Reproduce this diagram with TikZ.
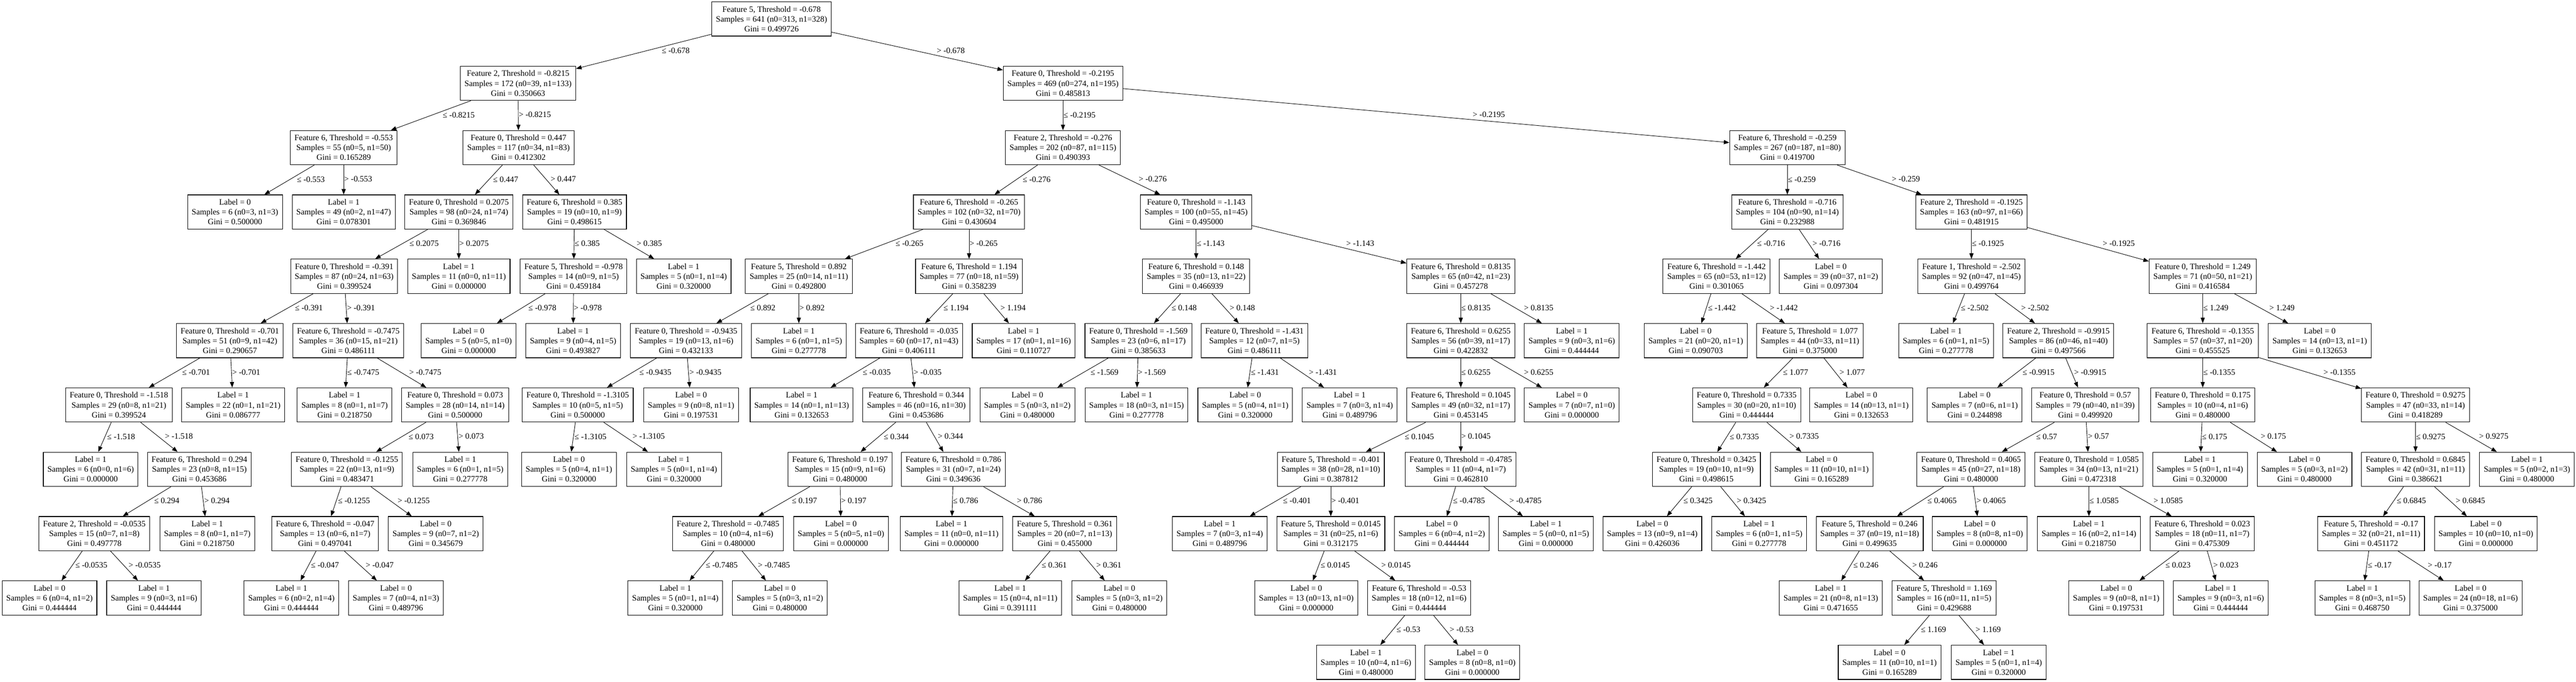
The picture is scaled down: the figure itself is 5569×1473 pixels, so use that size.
\documentclass[tikz,border=0pt]{standalone}
\usepackage{fontspec}
\setmainfont{Liberation Serif}
\usetikzlibrary{arrows.meta}
\tikzset{
  box/.style={draw, line width=1.2pt, align=center, minimum height=74pt, inner xsep=9pt, inner ysep=0pt,
    font=\fontsize{17.8pt}{21.3pt}\selectfont},
  arr/.style={-{Triangle[length=12pt,width=9pt]}, line width=1pt},
  elab/.style={font=\fontsize{17.8pt}{21.3pt}\selectfont, inner sep=1pt, text height=12.5pt, text depth=3.5pt}
}
\newcommand{\DecNode}[7]{\node[box] (#1) at (#2,{41+139*#3}) {Feature #4, Threshold = #5\\Samples = #6\\Gini = #7};}
\newcommand{\LeafNode}[6]{\node[box] (#1) at (#2,{41+139*#3}) {Label = #4\\Samples = #5\\Gini = #6};}
\newcommand{\EdgeLe}[3]{\draw[arr] (#1) -- (#2); \path (#1.center) -- (#2.center) node[elab, pos=0.435, anchor=north west] {≤ #3};}
\newcommand{\EdgeGt}[3]{\draw[arr] (#1) -- (#2); \path (#1.center) -- (#2.center) node[elab, pos=0.565, anchor=south west] {> #3};}
\begin{document}
\begin{tikzpicture}[x=1pt, y=-1pt]
\useasboundingbox (0,0) rectangle (5569,1473);
% level 0-1
\DecNode{t}{1668}{0}{5}{-0.678}{641 (n0=313, n1=328)}{0.499726}
\DecNode{tL}{1120}{1}{2}{-0.8215}{172 (n0=39, n1=133)}{0.350663}
\DecNode{tR}{2298}{1}{0}{-0.2195}{469 (n0=274, n1=195)}{0.485813}
% level 2
\DecNode{tLL}{743}{2}{6}{-0.553}{55 (n0=5, n1=50)}{0.165289}
\DecNode{tLR}{1121}{2}{0}{0.447}{117 (n0=34, n1=83)}{0.412302}
\DecNode{tRL}{2298}{2}{2}{-0.276}{202 (n0=87, n1=115)}{0.490393}
\DecNode{tRR}{3864}{2}{6}{-0.259}{267 (n0=187, n1=80)}{0.419700}
% level 3
\LeafNode{tLLL}{508}{3}{0}{6 (n0=3, n1=3)}{0.500000}
\LeafNode{tLLR}{743}{3}{1}{49 (n0=2, n1=47)}{0.078301}
\DecNode{tLRL}{992}{3}{0}{0.2075}{98 (n0=24, n1=74)}{0.369846}
\DecNode{tLRR}{1242}{3}{6}{0.385}{19 (n0=10, n1=9)}{0.498615}
\DecNode{tRLL}{2095}{3}{6}{-0.265}{102 (n0=32, n1=70)}{0.430604}
\DecNode{tRLR}{2586}{3}{0}{-1.143}{100 (n0=55, n1=45)}{0.495000}
\DecNode{tRRL}{3864}{3}{6}{-0.716}{104 (n0=90, n1=14)}{0.232988}
\DecNode{tRRR}{4262}{3}{2}{-0.1925}{163 (n0=97, n1=66)}{0.481915}
% level 4
\DecNode{tLRLL}{744}{4}{0}{-0.391}{87 (n0=24, n1=63)}{0.399524}
\LeafNode{tLRLR}{992}{4}{1}{11 (n0=0, n1=11)}{0.000000}
\DecNode{tLRRL}{1240}{4}{5}{-0.978}{14 (n0=9, n1=5)}{0.459184}
\LeafNode{tLRRR}{1478}{4}{1}{5 (n0=1, n1=4)}{0.320000}
\DecNode{tRLLL}{1727}{4}{5}{0.892}{25 (n0=14, n1=11)}{0.492800}
\DecNode{tRLLR}{2095}{4}{6}{1.194}{77 (n0=18, n1=59)}{0.358239}
\DecNode{tRLRL}{2586}{4}{6}{0.148}{35 (n0=13, n1=22)}{0.466939}
\DecNode{tRLRR}{3158}{4}{6}{0.8135}{65 (n0=42, n1=23)}{0.457278}
\DecNode{tRRLL}{3711}{4}{6}{-1.442}{65 (n0=53, n1=12)}{0.301065}
\LeafNode{tRRLR}{3958}{4}{0}{39 (n0=37, n1=2)}{0.097304}
\DecNode{tRRRL}{4262}{4}{1}{-2.502}{92 (n0=47, n1=45)}{0.499764}
\DecNode{tRRRR}{4762}{4}{0}{1.249}{71 (n0=50, n1=21)}{0.416584}
% level 5
\DecNode{tLRLLL}{497}{5}{0}{-0.701}{51 (n0=9, n1=42)}{0.290657}
\DecNode{tLRLLR}{753}{5}{6}{-0.7475}{36 (n0=15, n1=21)}{0.486111}
\LeafNode{tLRRLL}{1013}{5}{0}{5 (n0=5, n1=0)}{0.000000}
\LeafNode{tLRRLR}{1239}{5}{1}{9 (n0=4, n1=5)}{0.493827}
\DecNode{tRLLLL}{1483}{5}{0}{-0.9435}{19 (n0=13, n1=6)}{0.432133}
\LeafNode{tRLLLR}{1727}{5}{1}{6 (n0=1, n1=5)}{0.277778}
\DecNode{tRLLRL}{1965}{5}{6}{-0.035}{60 (n0=17, n1=43)}{0.406111}
\LeafNode{tRLLRR}{2213}{5}{1}{17 (n0=1, n1=16)}{0.110727}
\DecNode{tRLRLL}{2461}{5}{0}{-1.569}{23 (n0=6, n1=17)}{0.385633}
\DecNode{tRLRLR}{2712}{5}{0}{-1.431}{12 (n0=7, n1=5)}{0.486111}
\DecNode{tRLRRL}{3158}{5}{6}{0.6255}{56 (n0=39, n1=17)}{0.422832}
\LeafNode{tRLRRR}{3398}{5}{1}{9 (n0=3, n1=6)}{0.444444}
\LeafNode{tRRLLL}{3666}{5}{0}{21 (n0=20, n1=1)}{0.090703}
\DecNode{tRRLLR}{3913}{5}{5}{1.077}{44 (n0=33, n1=11)}{0.375000}
\LeafNode{tRRRLL}{4207}{5}{1}{6 (n0=1, n1=5)}{0.277778}
\DecNode{tRRRLR}{4450}{5}{2}{-0.9915}{86 (n0=46, n1=40)}{0.497566}
\DecNode{tRRRRL}{4762}{5}{6}{-0.1355}{57 (n0=37, n1=20)}{0.455525}
\LeafNode{tRRRRR}{5015}{5}{0}{14 (n0=13, n1=1)}{0.132653}
% level 6
\DecNode{tLRLLLL}{257}{6}{0}{-1.518}{29 (n0=8, n1=21)}{0.399524}
\LeafNode{tLRLLLR}{504}{6}{1}{22 (n0=1, n1=21)}{0.086777}
\LeafNode{tLRLLRL}{745}{6}{1}{8 (n0=1, n1=7)}{0.218750}
\DecNode{tLRLLRR}{984}{6}{0}{0.073}{28 (n0=14, n1=14)}{0.500000}
\DecNode{tRLLLLL}{1249}{6}{0}{-1.3105}{10 (n0=5, n1=5)}{0.500000}
\LeafNode{tRLLLLR}{1494}{6}{0}{9 (n0=8, n1=1)}{0.197531}
\LeafNode{tRLLRLL}{1733}{6}{1}{14 (n0=1, n1=13)}{0.132653}
\DecNode{tRLLRLR}{1981}{6}{6}{0.344}{46 (n0=16, n1=30)}{0.453686}
\LeafNode{tRLRLLL}{2221}{6}{0}{5 (n0=3, n1=2)}{0.480000}
\LeafNode{tRLRLLR}{2457}{6}{1}{18 (n0=3, n1=15)}{0.277778}
\LeafNode{tRLRLRL}{2692}{6}{0}{5 (n0=4, n1=1)}{0.320000}
\LeafNode{tRLRLRR}{2918}{6}{1}{7 (n0=3, n1=4)}{0.489796}
\DecNode{tRLRRLL}{3158}{6}{6}{0.1045}{49 (n0=32, n1=17)}{0.453145}
\LeafNode{tRLRRLR}{3398}{6}{0}{7 (n0=7, n1=0)}{0.000000}
\DecNode{tRRLLRL}{3776}{6}{0}{0.7335}{30 (n0=20, n1=10)}{0.444444}
\LeafNode{tRRLLRR}{4024}{6}{0}{14 (n0=13, n1=1)}{0.132653}
\LeafNode{tRRRLRL}{4269}{6}{0}{7 (n0=6, n1=1)}{0.244898}
\DecNode{tRRRLRR}{4508}{6}{0}{0.57}{79 (n0=40, n1=39)}{0.499920}
\DecNode{tRRRRLL}{4762}{6}{0}{0.175}{10 (n0=4, n1=6)}{0.480000}
\DecNode{tRRRRLR}{5222}{6}{0}{0.9275}{47 (n0=33, n1=14)}{0.418289}
% level 7
\LeafNode{tLRLLLLL}{196}{7}{1}{6 (n0=0, n1=6)}{0.000000}
\DecNode{tLRLLLLR}{431}{7}{6}{0.294}{23 (n0=8, n1=15)}{0.453686}
\DecNode{tLRLLRRL}{750}{7}{0}{-0.1255}{22 (n0=13, n1=9)}{0.483471}
\LeafNode{tLRLLRRR}{995}{7}{1}{6 (n0=1, n1=5)}{0.277778}
\LeafNode{tRLLLLLL}{1230}{7}{0}{5 (n0=4, n1=1)}{0.320000}
\LeafNode{tRLLLLLR}{1457}{7}{1}{5 (n0=1, n1=4)}{0.320000}
\DecNode{tRLLRLRL}{1816}{7}{6}{0.197}{15 (n0=9, n1=6)}{0.480000}
\DecNode{tRLLRLRR}{2061}{7}{6}{0.786}{31 (n0=7, n1=24)}{0.349636}
\DecNode{tRLRRLLL}{2877}{7}{5}{-0.401}{38 (n0=28, n1=10)}{0.387812}
\DecNode{tRLRRLLR}{3158}{7}{0}{-0.4785}{11 (n0=4, n1=7)}{0.462810}
\DecNode{tRRLLRLL}{3689}{7}{0}{0.3425}{19 (n0=10, n1=9)}{0.498615}
\LeafNode{tRRLLRLR}{3938}{7}{0}{11 (n0=10, n1=1)}{0.165289}
\DecNode{tRRRLRRL}{4261}{7}{0}{0.4065}{45 (n0=27, n1=18)}{0.480000}
\DecNode{tRRRLRRR}{4516}{7}{0}{1.0585}{34 (n0=13, n1=21)}{0.472318}
\LeafNode{tRRRRLLL}{4756}{7}{1}{5 (n0=1, n1=4)}{0.320000}
\LeafNode{tRRRRLLR}{4982}{7}{0}{5 (n0=3, n1=2)}{0.480000}
\DecNode{tRRRRLRL}{5222}{7}{0}{0.6845}{42 (n0=31, n1=11)}{0.386621}
\LeafNode{tRRRRLRR}{5463}{7}{1}{5 (n0=2, n1=3)}{0.480000}
% level 8
\DecNode{tLRLLLLRL}{204}{8}{2}{-0.0535}{15 (n0=7, n1=8)}{0.497778}
\LeafNode{tLRLLLLRR}{448}{8}{1}{8 (n0=1, n1=7)}{0.218750}
\DecNode{tLRLLRRLL}{703}{8}{6}{-0.047}{13 (n0=6, n1=7)}{0.497041}
\LeafNode{tLRLLRRLR}{942}{8}{0}{9 (n0=7, n1=2)}{0.345679}
\DecNode{tRLLRLRLL}{1574}{8}{2}{-0.7485}{10 (n0=4, n1=6)}{0.480000}
\LeafNode{tRLLRLRLR}{1818}{8}{0}{5 (n0=5, n1=0)}{0.000000}
\LeafNode{tRLLRLRRL}{2057}{8}{1}{11 (n0=0, n1=11)}{0.000000}
\DecNode{tRLLRLRRR}{2302}{8}{5}{0.361}{20 (n0=7, n1=13)}{0.455000}
\LeafNode{tRLRRLLLL}{2637}{8}{1}{7 (n0=3, n1=4)}{0.489796}
\DecNode{tRLRRLLLR}{2877}{8}{5}{0.0145}{31 (n0=25, n1=6)}{0.312175}
\LeafNode{tRLRRLLRL}{3117}{8}{0}{6 (n0=4, n1=2)}{0.444444}
\LeafNode{tRLRRLLRR}{3342}{8}{1}{5 (n0=0, n1=5)}{0.000000}
\LeafNode{tRRLLRLLL}{3572}{8}{0}{13 (n0=9, n1=4)}{0.426036}
\LeafNode{tRRLLRLLR}{3803}{8}{1}{6 (n0=1, n1=5)}{0.277778}
\DecNode{tRRRLRRLL}{4042}{8}{5}{0.246}{37 (n0=19, n1=18)}{0.499635}
\LeafNode{tRRRLRRLR}{4280}{8}{0}{8 (n0=8, n1=0)}{0.000000}
\LeafNode{tRRRLRRRL}{4516}{8}{1}{16 (n0=2, n1=14)}{0.218750}
\DecNode{tRRRLRRRR}{4761}{8}{6}{0.023}{18 (n0=11, n1=7)}{0.475309}
\DecNode{tRRRRLRLL}{5126}{8}{5}{-0.17}{32 (n0=21, n1=11)}{0.451172}
\LeafNode{tRRRRLRLR}{5374}{8}{0}{10 (n0=10, n1=0)}{0.000000}
% level 9
\LeafNode{tLRLLLLRLL}{107}{9}{0}{6 (n0=4, n1=2)}{0.444444}
\LeafNode{tLRLLLLRLR}{333}{9}{1}{9 (n0=3, n1=6)}{0.444444}
\LeafNode{tLRLLRRLLL}{630}{9}{1}{6 (n0=2, n1=4)}{0.444444}
\LeafNode{tLRLLRRLLR}{856}{9}{0}{7 (n0=4, n1=3)}{0.489796}
\LeafNode{tRLLRLRLLL}{1460}{9}{1}{5 (n0=1, n1=4)}{0.320000}
\LeafNode{tRLLRLRLLR}{1686}{9}{0}{5 (n0=3, n1=2)}{0.480000}
\LeafNode{tRLLRLRRRL}{2184}{9}{1}{15 (n0=4, n1=11)}{0.391111}
\LeafNode{tRLLRLRRRR}{2420}{9}{0}{5 (n0=3, n1=2)}{0.480000}
\LeafNode{tRLRRLLLRL}{2824}{9}{0}{13 (n0=13, n1=0)}{0.000000}
\DecNode{tRLRRLLLRR}{3068}{9}{6}{-0.53}{18 (n0=12, n1=6)}{0.444444}
\LeafNode{tRRRLRRLLL}{3958}{9}{1}{21 (n0=8, n1=13)}{0.471655}
\DecNode{tRRRLRRLLR}{4203}{9}{5}{1.169}{16 (n0=11, n1=5)}{0.429688}
\LeafNode{tRRRLRRRRL}{4575}{9}{0}{9 (n0=8, n1=1)}{0.197531}
\LeafNode{tRRRLRRRRR}{4801}{9}{1}{9 (n0=3, n1=6)}{0.444444}
\LeafNode{tRRRRLRLLL}{5107}{9}{1}{8 (n0=3, n1=5)}{0.468750}
\LeafNode{tRRRRLRLLR}{5341}{9}{0}{24 (n0=18, n1=6)}{0.375000}
% level 10
\LeafNode{tRLRRLLLRRL}{2953}{10}{1}{10 (n0=4, n1=6)}{0.480000}
\LeafNode{tRLRRLLLRRR}{3183}{10}{0}{8 (n0=8, n1=0)}{0.000000}
\LeafNode{tRRRLRRLLRL}{4085}{10}{0}{11 (n0=10, n1=1)}{0.165289}
\LeafNode{tRRRLRRLLRR}{4321}{10}{1}{5 (n0=1, n1=4)}{0.320000}
% edges
\EdgeLe{t}{tL}{-0.678}\EdgeGt{t}{tR}{-0.678}
\EdgeLe{tL}{tLL}{-0.8215}\EdgeGt{tL}{tLR}{-0.8215}
\EdgeLe{tR}{tRL}{-0.2195}\EdgeGt{tR}{tRR}{-0.2195}
\EdgeLe{tLL}{tLLL}{-0.553}\EdgeGt{tLL}{tLLR}{-0.553}
\EdgeLe{tLR}{tLRL}{0.447}\EdgeGt{tLR}{tLRR}{0.447}
\EdgeLe{tRL}{tRLL}{-0.276}\EdgeGt{tRL}{tRLR}{-0.276}
\EdgeLe{tRR}{tRRL}{-0.259}\EdgeGt{tRR}{tRRR}{-0.259}
\EdgeLe{tLRL}{tLRLL}{0.2075}\EdgeGt{tLRL}{tLRLR}{0.2075}
\EdgeLe{tLRR}{tLRRL}{0.385}\EdgeGt{tLRR}{tLRRR}{0.385}
\EdgeLe{tRLL}{tRLLL}{-0.265}\EdgeGt{tRLL}{tRLLR}{-0.265}
\EdgeLe{tRLR}{tRLRL}{-1.143}\EdgeGt{tRLR}{tRLRR}{-1.143}
\EdgeLe{tRRL}{tRRLL}{-0.716}\EdgeGt{tRRL}{tRRLR}{-0.716}
\EdgeLe{tRRR}{tRRRL}{-0.1925}\EdgeGt{tRRR}{tRRRR}{-0.1925}
\EdgeLe{tLRLL}{tLRLLL}{-0.391}\EdgeGt{tLRLL}{tLRLLR}{-0.391}
\EdgeLe{tLRRL}{tLRRLL}{-0.978}\EdgeGt{tLRRL}{tLRRLR}{-0.978}
\EdgeLe{tRLLL}{tRLLLL}{0.892}\EdgeGt{tRLLL}{tRLLLR}{0.892}
\EdgeLe{tRLLR}{tRLLRL}{1.194}\EdgeGt{tRLLR}{tRLLRR}{1.194}
\EdgeLe{tRLRL}{tRLRLL}{0.148}\EdgeGt{tRLRL}{tRLRLR}{0.148}
\EdgeLe{tRLRR}{tRLRRL}{0.8135}\EdgeGt{tRLRR}{tRLRRR}{0.8135}
\EdgeLe{tRRLL}{tRRLLL}{-1.442}\EdgeGt{tRRLL}{tRRLLR}{-1.442}
\EdgeLe{tRRRL}{tRRRLL}{-2.502}\EdgeGt{tRRRL}{tRRRLR}{-2.502}
\EdgeLe{tRRRR}{tRRRRL}{1.249}\EdgeGt{tRRRR}{tRRRRR}{1.249}
\EdgeLe{tLRLLL}{tLRLLLL}{-0.701}\EdgeGt{tLRLLL}{tLRLLLR}{-0.701}
\EdgeLe{tLRLLR}{tLRLLRL}{-0.7475}\EdgeGt{tLRLLR}{tLRLLRR}{-0.7475}
\EdgeLe{tRLLLL}{tRLLLLL}{-0.9435}\EdgeGt{tRLLLL}{tRLLLLR}{-0.9435}
\EdgeLe{tRLLRL}{tRLLRLL}{-0.035}\EdgeGt{tRLLRL}{tRLLRLR}{-0.035}
\EdgeLe{tRLRLL}{tRLRLLL}{-1.569}\EdgeGt{tRLRLL}{tRLRLLR}{-1.569}
\EdgeLe{tRLRLR}{tRLRLRL}{-1.431}\EdgeGt{tRLRLR}{tRLRLRR}{-1.431}
\EdgeLe{tRLRRL}{tRLRRLL}{0.6255}\EdgeGt{tRLRRL}{tRLRRLR}{0.6255}
\EdgeLe{tRRLLR}{tRRLLRL}{1.077}\EdgeGt{tRRLLR}{tRRLLRR}{1.077}
\EdgeLe{tRRRLR}{tRRRLRL}{-0.9915}\EdgeGt{tRRRLR}{tRRRLRR}{-0.9915}
\EdgeLe{tRRRRL}{tRRRRLL}{-0.1355}\EdgeGt{tRRRRL}{tRRRRLR}{-0.1355}
\EdgeLe{tLRLLLL}{tLRLLLLL}{-1.518}\EdgeGt{tLRLLLL}{tLRLLLLR}{-1.518}
\EdgeLe{tLRLLRR}{tLRLLRRL}{0.073}\EdgeGt{tLRLLRR}{tLRLLRRR}{0.073}
\EdgeLe{tRLLLLL}{tRLLLLLL}{-1.3105}\EdgeGt{tRLLLLL}{tRLLLLLR}{-1.3105}
\EdgeLe{tRLLRLR}{tRLLRLRL}{0.344}\EdgeGt{tRLLRLR}{tRLLRLRR}{0.344}
\EdgeLe{tRLRRLL}{tRLRRLLL}{0.1045}\EdgeGt{tRLRRLL}{tRLRRLLR}{0.1045}
\EdgeLe{tRRLLRL}{tRRLLRLL}{0.7335}\EdgeGt{tRRLLRL}{tRRLLRLR}{0.7335}
\EdgeLe{tRRRLRR}{tRRRLRRL}{0.57}\EdgeGt{tRRRLRR}{tRRRLRRR}{0.57}
\EdgeLe{tRRRRLL}{tRRRRLLL}{0.175}\EdgeGt{tRRRRLL}{tRRRRLLR}{0.175}
\EdgeLe{tRRRRLR}{tRRRRLRL}{0.9275}\EdgeGt{tRRRRLR}{tRRRRLRR}{0.9275}
\EdgeLe{tLRLLLLR}{tLRLLLLRL}{0.294}\EdgeGt{tLRLLLLR}{tLRLLLLRR}{0.294}
\EdgeLe{tLRLLRRL}{tLRLLRRLL}{-0.1255}\EdgeGt{tLRLLRRL}{tLRLLRRLR}{-0.1255}
\EdgeLe{tRLLRLRL}{tRLLRLRLL}{0.197}\EdgeGt{tRLLRLRL}{tRLLRLRLR}{0.197}
\EdgeLe{tRLLRLRR}{tRLLRLRRL}{0.786}\EdgeGt{tRLLRLRR}{tRLLRLRRR}{0.786}
\EdgeLe{tRLRRLLL}{tRLRRLLLL}{-0.401}\EdgeGt{tRLRRLLL}{tRLRRLLLR}{-0.401}
\EdgeLe{tRLRRLLR}{tRLRRLLRL}{-0.4785}\EdgeGt{tRLRRLLR}{tRLRRLLRR}{-0.4785}
\EdgeLe{tRRLLRLL}{tRRLLRLLL}{0.3425}\EdgeGt{tRRLLRLL}{tRRLLRLLR}{0.3425}
\EdgeLe{tRRRLRRL}{tRRRLRRLL}{0.4065}\EdgeGt{tRRRLRRL}{tRRRLRRLR}{0.4065}
\EdgeLe{tRRRLRRR}{tRRRLRRRL}{1.0585}\EdgeGt{tRRRLRRR}{tRRRLRRRR}{1.0585}
\EdgeLe{tRRRRLRL}{tRRRRLRLL}{0.6845}\EdgeGt{tRRRRLRL}{tRRRRLRLR}{0.6845}
\EdgeLe{tLRLLLLRL}{tLRLLLLRLL}{-0.0535}\EdgeGt{tLRLLLLRL}{tLRLLLLRLR}{-0.0535}
\EdgeLe{tLRLLRRLL}{tLRLLRRLLL}{-0.047}\EdgeGt{tLRLLRRLL}{tLRLLRRLLR}{-0.047}
\EdgeLe{tRLLRLRLL}{tRLLRLRLLL}{-0.7485}\EdgeGt{tRLLRLRLL}{tRLLRLRLLR}{-0.7485}
\EdgeLe{tRLLRLRRR}{tRLLRLRRRL}{0.361}\EdgeGt{tRLLRLRRR}{tRLLRLRRRR}{0.361}
\EdgeLe{tRLRRLLLR}{tRLRRLLLRL}{0.0145}\EdgeGt{tRLRRLLLR}{tRLRRLLLRR}{0.0145}
\EdgeLe{tRRRLRRLL}{tRRRLRRLLL}{0.246}\EdgeGt{tRRRLRRLL}{tRRRLRRLLR}{0.246}
\EdgeLe{tRRRLRRRR}{tRRRLRRRRL}{0.023}\EdgeGt{tRRRLRRRR}{tRRRLRRRRR}{0.023}
\EdgeLe{tRRRRLRLL}{tRRRRLRLLL}{-0.17}\EdgeGt{tRRRRLRLL}{tRRRRLRLLR}{-0.17}
\EdgeLe{tRLRRLLLRR}{tRLRRLLLRRL}{-0.53}\EdgeGt{tRLRRLLLRR}{tRLRRLLLRRR}{-0.53}
\EdgeLe{tRRRLRRLLR}{tRRRLRRLLRL}{1.169}\EdgeGt{tRRRLRRLLR}{tRRRLRRLLRR}{1.169}
\end{tikzpicture}
\end{document}
